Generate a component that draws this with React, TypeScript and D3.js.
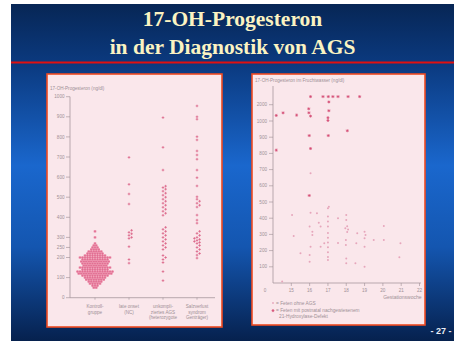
import React from 'react';
import * as d3 from 'd3';

const W = 454;
const H = 341;

// ---------- Left chart data ----------
const leftCategories = ['Kontrollgruppe', 'late onset', 'unkompliziertes AGS', 'Salzverlust'];
const leftCategoryLabels = [
  ['Kontroll-', 'gruppe'],
  ['late onset', '(NC)'],
  ['unkompli-', 'ziertes AGS', '(heterozygote'],
  ['Salzverlust', 'syndrom', 'Genträger)'],
];
const leftYTicks = [0, 100, 200, 250, 300, 400, 500, 600, 700, 800, 900, 1000];
const controlBins = [50, 60, 70, 80, 90, 100, 110, 120, 130, 140, 150, 160, 170, 180, 190, 200, 210, 220, 230, 240, 250, 260, 270, 300, 330];
const controlCounts = [2, 3, 5, 6, 8, 9, 11, 14, 15, 11, 13, 10, 11, 12, 11, 13, 9, 7, 6, 4, 3, 2, 1, 1, 1];
const lateOnset = [698, 564, 516, 466, 335, 325, 318, 310, 300, 295, 254, 190, 172];
const uncomplicated = [896, 748, 635, 555, 548, 540, 530, 520, 510, 500, 490, 480, 470, 460, 450, 440, 430, 420, 410, 350, 340, 330, 320, 310, 300, 290, 280, 270, 260, 250, 240, 210, 200, 190, 175, 130, 85];
const saltWasting = [954, 900, 888, 801, 785, 730, 710, 689, 635, 597, 556, 502, 490, 480, 470, 460, 451, 411, 386, 371, 330, 320, 310, 300, 295, 290, 285, 280, 275, 270, 260, 250, 240, 230, 220, 212, 197];

// ---------- Right chart data ----------
const rightXTicks = [15, 16, 17, 18, 19, 20, 21, 22];
const rightYTicks = [100, 200, 300, 400, 500, 600, 700, 800, 900, 1000, 2000];
const agsWeeks = [16.05, 16.73, 17.02, 17.27, 17.55, 18.1, 18.73, 17.05, 15.95, 17.05, 14.55, 15.29, 15.96, 14.18, 16.05, 17.0, 17.0, 18.06, 15.98, 17.02, 16.05, 14.18, 15.98];
const agsValues = [2500, 2500, 2500, 2500, 2500, 2500, 2500, 2170, 1750, 1630, 1500, 1360, 1505, 1340, 1300, 1200, 1030, 940, 910, 910, 830, 820, 540];
const noAgsWeeks = [15.04, 15.13, 15.5, 16.0, 16.0, 16.05, 16.0, 16.15, 16.15, 16.05, 16.4, 16.5, 16.6, 16.8, 16.6, 17.0, 17.0, 17.0, 17.0, 17.0, 17.0, 17.0, 17.0, 17.0, 17.0, 17.0, 17.55, 17.55, 17.95, 18.0, 18.0, 18.05, 18.1, 18.05, 17.98, 17.98, 18.0, 18.0, 18.5, 18.6, 18.55, 19.0, 19.05, 19.0, 19.0, 19.0, 19.5, 20.05, 20.05, 20.96, 20.9, 14.5, 16.05, 17.05];
const noAgsValues = [420, 290, 183, 131, 173, 224, 348, 317, 296, 434, 430, 372, 348, 245, 224, 461, 410, 380, 348, 308, 280, 250, 220, 190, 160, 142, 400, 247, 338, 420, 389, 350, 330, 315, 265, 235, 152, 122, 122, 307, 245, 317, 296, 276, 224, 100, 265, 352, 265, 245, 159, 10, 677, 471];

// ---------- scales ----------
const yL = d3.scaleLinear().domain([0, 1000]).range([297.7, 96.7]);
const xL = d3.scalePoint<string>().domain(leftCategories).range([95, 197]);
const xR = d3.scaleLinear().domain([14, 22]).range([273, 419.5]);
const yR = d3.scaleLinear().domain([0, 1000, 2000, 2500]).range([283, 121, 104.7, 96.6]);

function swarm(values: number[], cx: number, step: number) {
  const sorted = [...values].sort((a, b) => a - b);
  const placed: { x: number; y: number }[] = [];
  return sorted.map((v) => {
    const py = yL(v);
    for (let k = 0; k < 40; k++) {
      const off = k === 0 ? 0 : (k % 2 ? 1 : -1) * Math.ceil(k / 2) * step;
      const px = cx + off;
      if (!placed.some((p) => Math.abs(p.y - py) < step * 0.9 && Math.abs(p.x - px) < step * 0.9)) {
        placed.push({ x: px, y: py });
        return { x: px, y: py };
      }
    }
    return { x: cx, y: py };
  });
}

const plus = (x: number, y: number, s: number) => `M${x - s},${y}H${x + s}M${x},${y - s}V${y + s}`;
const star = (x: number, y: number, s: number) =>
  `M${x - s},${y}H${x + s}M${x},${y - s}V${y + s}M${x - s * 0.7},${y - s * 0.7}L${x + s * 0.7},${y + s * 0.7}M${x - s * 0.7},${y + s * 0.7}L${x + s * 0.7},${y - s * 0.7}`;

export default function App() {
  const axisColor = '#9c8d93';
  const textColor = '#a09096';
  const font = 'Liberation Sans, Arial, sans-serif';

  const cx0 = xL(leftCategories[0])!;
  const controlDots: { x: number; y: number }[] = [];
  controlBins.forEach((v, i) => {
    const n = controlCounts[i];
    for (let j = 0; j < n; j++) controlDots.push({ x: cx0 + (j - (n - 1) / 2) * 2.5, y: yL(v) });
  });
  const otherCols = [lateOnset, uncomplicated, saltWasting].map((vals, i) => swarm(vals, xL(leftCategories[i + 1])!, 2.6));

  return (
    <svg width={W} height={H} style={{ position: 'absolute', left: 0, top: 0 }} xmlns="http://www.w3.org/2000/svg">
      <defs>
        <linearGradient id="bg" x1="0" y1="0" x2="0" y2="1">
          <stop offset="0" stopColor="#072655" />
          <stop offset="0.18" stopColor="#0b3a80" />
          <stop offset="0.48" stopColor="#1a67cd" />
          <stop offset="0.72" stopColor="#1456b0" />
          <stop offset="1" stopColor="#06214e" />
        </linearGradient>
      </defs>
      <rect x={0} y={0} width={W} height={H} fill="#ffffff" />
      <rect x={11} y={4} width={W - 11} height={H - 4} fill="url(#bg)" />
      <rect x={11} y={61.5} width={W - 11} height={2} fill="#e01010" />

      <text x={232.5} y={26} textAnchor="middle" fontFamily="Liberation Serif, Times New Roman, serif" fontWeight="bold" fontSize={21.5} fill="#fbf3c2">17-OH-Progesteron</text>
      <text x={232.5} y={54} textAnchor="middle" fontFamily="Liberation Serif, Times New Roman, serif" fontWeight="bold" fontSize={21.5} fill="#fbf3c2">in der Diagnostik von AGS</text>
      <text x={441} y={334} textAnchor="middle" fontFamily="Liberation Sans, Arial, sans-serif" fontWeight="bold" fontSize={9} fill="#e8ecf4">- 27 -</text>

      {/* Left panel */}
      <rect x={47} y={74} width={175} height={253} fill="#fae7eb" stroke="#ee4a22" strokeWidth={1.6} />
      <text x={50} y={90} fontFamily={font} fontSize={4.6} fill={textColor}>17-OH-Progesteron (ng/dl)</text>
      <line x1={70} x2={70} y1={yL(0)} y2={yL(1000)} stroke={axisColor} strokeWidth={0.7} />
      <line x1={70} x2={215} y1={yL(0)} y2={yL(0)} stroke={axisColor} strokeWidth={0.7} />
      {leftYTicks.map((t) => (
        <g key={t}>
          <line x1={66} x2={70} y1={yL(t)} y2={yL(t)} stroke={axisColor} strokeWidth={0.6} />
          <text x={64.5} y={yL(t) + 1.6} textAnchor="end" fontFamily={font} fontSize={4.6} fill={textColor}>{t}</text>
        </g>
      ))}
      {leftCategories.map((c, i) => (
        <g key={c}>
          <line x1={xL(c)!} x2={xL(c)!} y1={yL(0)} y2={yL(0) + 2} stroke={axisColor} strokeWidth={0.6} />
          {leftCategoryLabels[i].map((l, j) => (
            <text key={j} x={xL(c)!} y={yL(0) + 10 + j * 5.8} textAnchor="middle" fontFamily={font} fontSize={4.6} fill={textColor}>{l}</text>
          ))}
        </g>
      ))}
      {controlDots.map((d, i) => (
        <rect key={'c' + i} x={d.x - 1.25} y={d.y - 1.1} width={2.5} height={2.2} fill="#ef93ae" />
      ))}
      {controlDots.map((d, i) => (
        <path key={'cp' + i} d={plus(d.x, d.y, 1.2)} stroke="#dd6388" strokeWidth={0.5} fill="none" />
      ))}
      {otherCols.map((col, ci) =>
        col.map((d, i) => (
          <path key={ci + '-' + i} d={plus(d.x, d.y, 1.3)} stroke="#d9587e" strokeWidth={0.7} fill="none" />
        ))
      )}

      {/* Right panel */}
      <rect x={252} y={74} width={173} height={251} fill="#fae7eb" stroke="#ee4a22" strokeWidth={1.6} />
      <text x={255} y={82} fontFamily={font} fontSize={4.6} fill={textColor}>17-OH-Progesteron im Fruchtwasser (ng/dl)</text>
      <line x1={xR(14)} x2={xR(14)} y1={yR(0)} y2={86} stroke={axisColor} strokeWidth={0.7} />
      <line x1={xR(14)} x2={421} y1={yR(0)} y2={yR(0)} stroke={axisColor} strokeWidth={0.7} />
      {rightYTicks.map((t) => (
        <g key={t}>
          <line x1={xR(14) - 4} x2={xR(14)} y1={yR(t)} y2={yR(t)} stroke={axisColor} strokeWidth={0.6} />
          <text x={xR(14) - 6} y={yR(t) + 1.6} textAnchor="end" fontFamily={font} fontSize={4.6} fill={textColor}>{t}</text>
        </g>
      ))}
      <text x={xR(14) - 8} y={yR(0) + 8.5} textAnchor="middle" fontFamily={font} fontSize={4.6} fill={textColor}>0</text>
      {rightXTicks.map((t) => (
        <g key={t}>
          <line x1={xR(t)} x2={xR(t)} y1={yR(0)} y2={yR(0) + 3} stroke={axisColor} strokeWidth={0.6} />
          <text x={xR(t)} y={yR(0) + 8.5} textAnchor="middle" fontFamily={font} fontSize={4.6} fill={textColor}>{t}</text>
        </g>
      ))}
      <text x={421.5} y={299} textAnchor="end" fontFamily={font} fontSize={5} fill={textColor}>Gestationswoche</text>
      {noAgsWeeks.map((w, i) => (
        <circle key={'n' + i} cx={xR(w)} cy={yR(noAgsValues[i])} r={1} fill="#e6a6bb" />
      ))}
      {agsWeeks.map((w, i) => (
        <path key={'a' + i} d={star(xR(w), yR(agsValues[i]), 1.5)} stroke="#d44a72" strokeWidth={0.7} fill="none" />
      ))}
      {/* legend */}
      <circle cx={273} cy={303} r={0.9} fill="#e6a6bb" />
      <text x={276} y={304.6} fontFamily={font} fontSize={4.8} fill={textColor}>= Feten ohne AGS</text>
      <path d={star(273, 310.6, 1.5)} stroke="#d44a72" strokeWidth={0.7} fill="none" />
      <text x={276} y={312.2} fontFamily={font} fontSize={4.8} fill={textColor}>= Feten mit postnatal nachgewiesenem</text>
      <text x={279} y={318} fontFamily={font} fontSize={4.8} fill={textColor}>21-Hydroxylase-Defekt</text>
    </svg>
  );
}
